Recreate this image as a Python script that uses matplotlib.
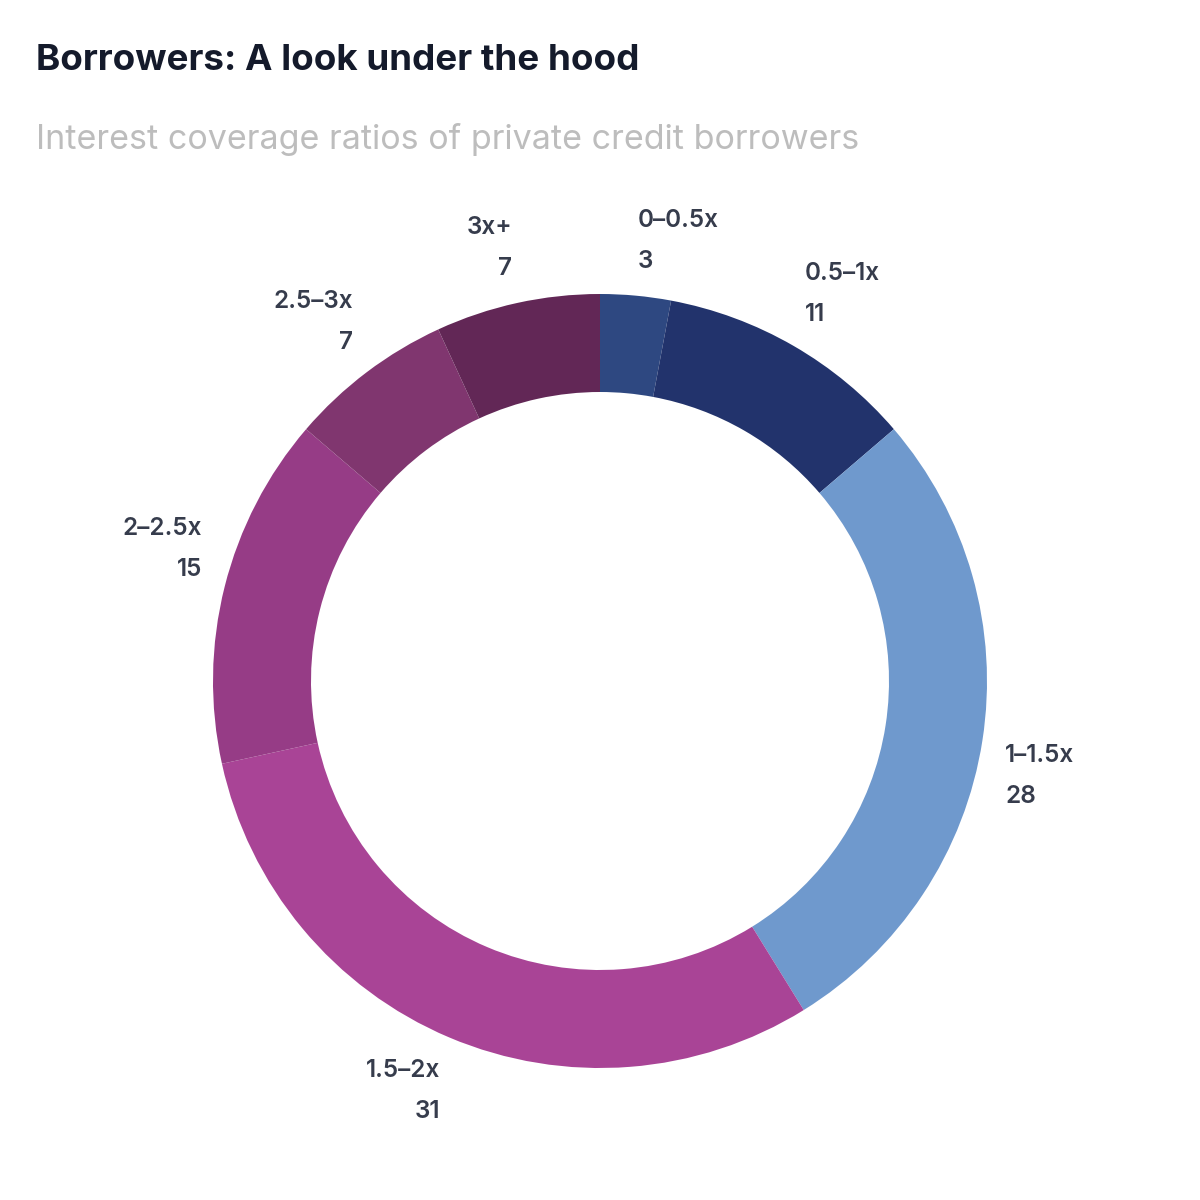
"""Donut chart: interest coverage ratios of private credit borrowers."""

import numpy as np
import matplotlib.pyplot as plt

# ── Data ─────────────────────────────────────────────────────────────────────
categories = ["0–0.5x", "0.5–1x", "1–1.5x", "1.5–2x", "2–2.5x", "2.5–3x", "3x+"]
values = [3, 11, 28, 31, 15, 7, 7]
colors = ["#2E4881", "#22336C", "#6F99CD", "#A94496", "#963C86", "#80366F", "#622756"]

TITLE = "Borrowers: A look under the hood"
SUBTITLE = "Interest coverage ratios of private credit borrowers"

plt.rcParams.update({
    "font.family": ["Inter", "DejaVu Sans"],
    "figure.facecolor": "white",
})

W = H = 1200
CX, CY = 600, 681          # donut centre, pixels from top-left
R_OUT, R_IN = 387, 289
HALF = 500                 # half-size of the square pie axes, pixels

fig = plt.figure(figsize=(12, 12), dpi=100)
ax = fig.add_axes([(CX - HALF) / W, (H - CY - HALF) / H, 2 * HALF / W, 2 * HALF / H])

wedges, _ = ax.pie(values, colors=colors, startangle=90, counterclock=False,
                   radius=1.0, wedgeprops=dict(width=(R_OUT - R_IN) / R_OUT,
                                               edgecolor="none", linewidth=0))
# pie() resets the limits, so set them afterwards
lim = HALF / R_OUT
ax.set_xlim(-lim, lim)
ax.set_ylim(-lim, lim)
ax.set_aspect("equal")
ax.axis("off")

r_lab = 1.06
for w, cat, val in zip(wedges, categories, values):
    ang = np.deg2rad((w.theta1 + w.theta2) / 2)
    x, y = r_lab * np.cos(ang), r_lab * np.sin(ang)
    ha = "left" if x >= 0 else "right"
    va = "bottom" if y >= 0 else "top"
    ax.text(x, y, f"{cat}\n{val}", ha=ha, va=va, multialignment=ha,
            fontsize=17.5, fontweight="semibold", color="#363C4C",
            linespacing=2.0, clip_on=False)

fig.text(36 / W, 1 - 61 / H, TITLE, ha="left", va="center",
         fontsize=26.5, fontweight="bold", color="#141A2B")
fig.text(36 / W, 1 - 140 / H, SUBTITLE, ha="left", va="center",
         fontsize=24.5, fontweight="normal", color="#BDBDBD")

fig.savefig("out.png", dpi=100, facecolor="white")
